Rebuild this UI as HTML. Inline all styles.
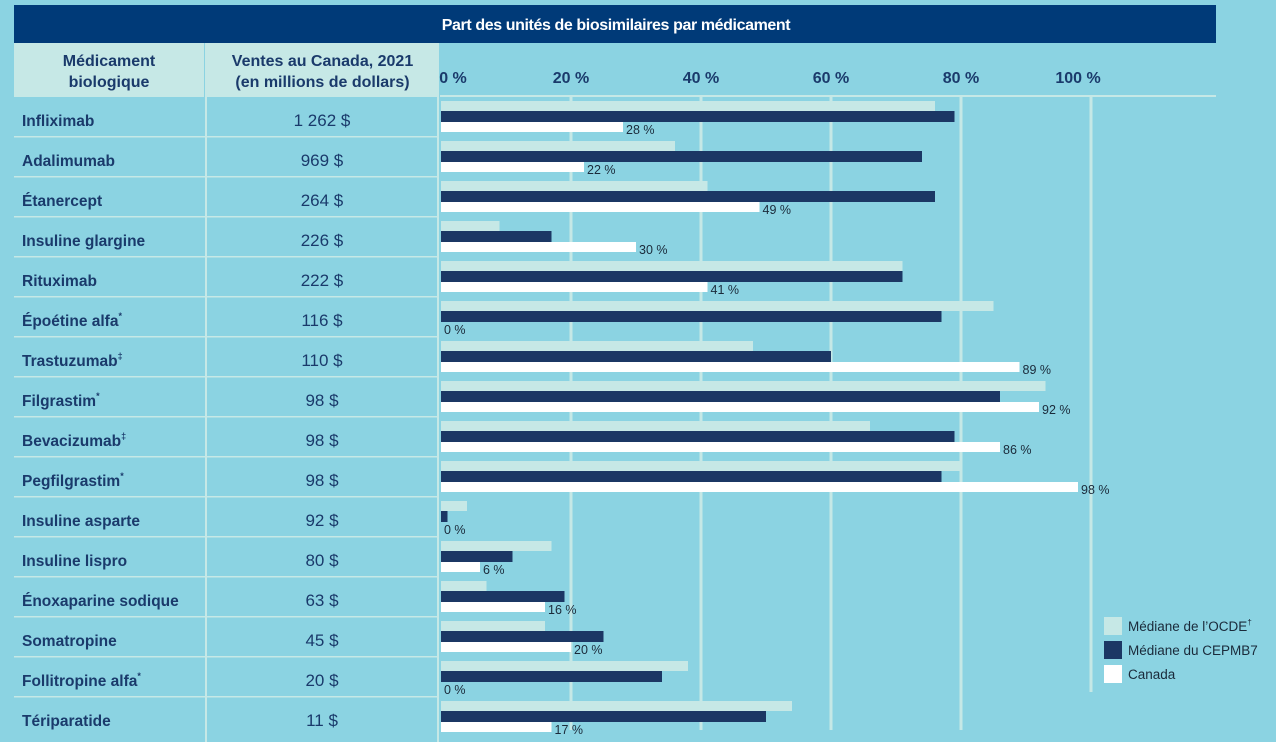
<!DOCTYPE html>
<html><head><meta charset="utf-8"><style>
body{margin:0;width:1276px;height:742px;background:#8bd3e2;font-family:"Liberation Sans",sans-serif;overflow:hidden;position:relative}
.abs{position:absolute}
</style></head><body>
<div class="abs" style="left:14px;top:5px;width:1202px;height:38px;background:#003a78"></div>
<div class="abs" style="left:14px;top:17px;width:1204px;text-align:center;color:#fff;font-weight:bold;font-size:16px;letter-spacing:-0.4px">Part des unités de biosimilaires par médicament</div>
<div class="abs" style="left:14px;top:43px;width:190px;height:54px;background:#c6e8e6;color:#1a3a6b;font-weight:bold;font-size:16px;text-align:center;line-height:21px;padding-top:8px;box-sizing:border-box">Médicament<br>biologique</div>
<div class="abs" style="left:207px;top:43px;width:231px;height:54px;background:#c6e8e6;color:#1a3a6b;font-weight:bold;font-size:16px;text-align:center;line-height:21px;padding-top:8px;box-sizing:border-box">Ventes au Canada, 2021<br>(en millions de dollars)</div>
<svg class="abs" style="left:0;top:0" width="1276" height="742" id="svg"></svg>
<script>
const drugs=["Infliximab","Adalimumab","Étanercept","Insuline glargine","Rituximab","Époétine alfa","Trastuzumab","Filgrastim","Bevacizumab","Pegfilgrastim","Insuline asparte","Insuline lispro","Énoxaparine sodique","Somatropine","Follitropine alfa","Tériparatide"];
const marks=["","","","","","*","‡","*","‡","*","","","","","*",""];
const sales=["1 262 $","969 $","264 $","226 $","222 $","116 $","110 $","98 $","98 $","98 $","92 $","80 $","63 $","45 $","20 $","11 $"];
const ocde=[76,36,41,9,71,85,48,93,66,80,4,17,7,16,38,54];
const cepmb=[79,74,76,17,71,77,60,86,79,77,1,11,19,25,34,50];
const canada=[28,22,49,30,41,0,89,92,86,98,0,6,16,20,0,17];
const ticks=[0,20,40,60,80,100];
const svg=document.getElementById('svg');const NS='http://www.w3.org/2000/svg';
const x=v=>441+v*6.5;const rowY=i=>97+40*i;
function mk(t,a,p){const e=document.createElementNS(NS,t);for(const k in a)e.setAttribute(k,a[k]);(p||svg).appendChild(e);return e;}
mk('rect',{x:205,y:43,width:2,height:699,fill:'#c6e8e6'});
mk('rect',{x:437,y:43,width:2,height:699,fill:'#c6e8e6'});
mk('rect',{x:440,y:95,width:776,height:2,fill:'#c6e8e6'});
ticks.forEach((t,j)=>{
 if(t>0){const g=mk('rect',{x:x(t)-1.5,y:97,width:3,height:t==100?595:633,fill:'#c6e8e6'});
 }
 const tx=mk('text',{x:t==0?453:(t==100?x(t)-13:x(t)),y:83,'text-anchor':'middle','font-size':16,'font-weight':'bold',fill:'#1a3a6b'});
 tx.textContent=t+' %';
 
});
drugs.forEach((d,i)=>{
 const y=rowY(i);
 if(i>0){mk('rect',{x:14,y:y-1,width:191,height:1.5,fill:'#c6e8e6'});mk('rect',{x:207,y:y-1,width:230,height:1.5,fill:'#c6e8e6'});}
 const l=mk('text',{x:22,y:y+29,'font-size':15.5,'font-weight':'bold',fill:'#1a3a6b'});
 l.textContent=d;
 if(marks[i]){const s=mk('tspan',{'font-size':9,dy:-7},l);s.textContent=marks[i];}
 
 const s=mk('text',{x:322,y:y+29,'text-anchor':'middle','font-size':17,fill:'#1a3a6b'});
 s.textContent=sales[i];
 
 const b1=mk('rect',{x:441,y:y+4,width:x(ocde[i])-441,height:10,fill:'#c6e8e6'});
 
 const b2=mk('rect',{x:441,y:y+14,width:x(cepmb[i])-441,height:11,fill:'#1b3764'});
 
 const b3=mk('rect',{x:441,y:y+25,width:x(canada[i])-441,height:10,fill:'#ffffff'});
 
 const v=mk('text',{x:x(canada[i])+3,y:y+37,'font-size':12.5,fill:'#1a2a3a'});
 v.textContent=canada[i]+' %';
 
});
const leg=[['#c6e8e6','Médiane de l’OCDE','†'],['#1b3764','Médiane du CEPMB7',''],['#ffffff','Canada','']];
leg.forEach((e,k)=>{
 const y=617+k*24;
 const r=mk('rect',{x:1104,y:y,width:18,height:18,fill:e[0]});
 
 const t=mk('text',{x:1128,y:y+14,'font-size':13.5,fill:'#1a2a3a'});t.textContent=e[1];
 if(e[2]){const s=mk('tspan',{'font-size':8,dy:-6},t);s.textContent=e[2];}
 
});
</script>
</body></html>
